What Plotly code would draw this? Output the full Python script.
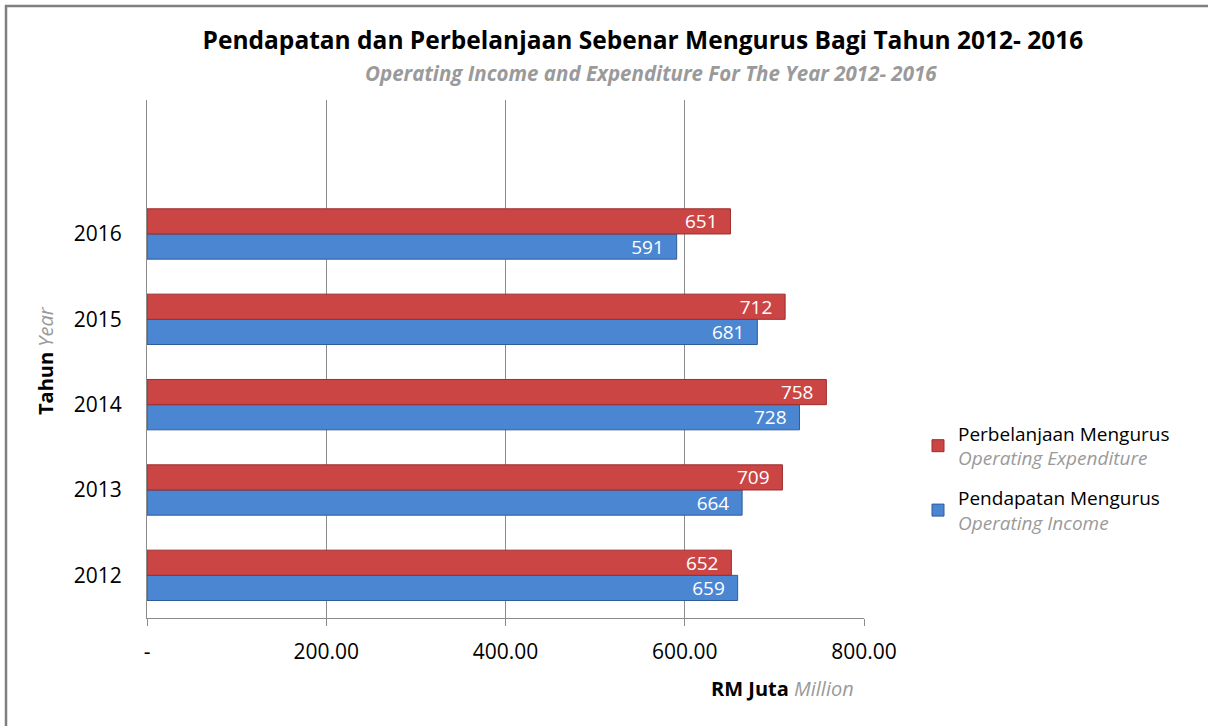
import plotly.graph_objects as go

years = ["2012", "2013", "2014", "2015", "2016"]
expenditure = [652, 709, 758, 712, 651]
income = [659, 664, 728, 681, 591]
tick_vals = [0, 200, 400, 600, 800]
tick_text = ["-", "200.00", "400.00", "600.00", "800.00"]

FONT = "Open Sans"
W, H = 1208, 726
L, R, T, B = 147, 864, 100, 618  # plot area in pixels
PW, PH = R - L, B - T


def px(x):
    return (x - L) / PW


def py(y):
    return (B - y) / PH


NB = "\u00a0\u00a0"

fig = go.Figure()
fig.add_trace(go.Bar(
    y=years, x=income, orientation="h", legendgroup="inc", legendrank=2,
    name="Pendapatan Mengurus<br><span style='color:#9a9a9a'><i>Operating Income</i></span>",
    marker=dict(color="#4B86D2", line=dict(color="#2E5C99", width=1)),
    text=[str(v) + NB for v in income], textposition="inside", insidetextanchor="end",
    constraintext="none",
    textfont=dict(color="white", size=19, family=FONT),
))
fig.add_trace(go.Bar(
    y=years, x=expenditure, orientation="h", legendgroup="exp", legendrank=1,
    name="Perbelanjaan Mengurus<br><span style='color:#9a9a9a'><i>Operating Expenditure</i></span>",
    marker=dict(color="#CB4545", line=dict(color="#9E2C2C", width=1)),
    text=[str(v) + NB for v in expenditure], textposition="inside", insidetextanchor="end",
    constraintext="none",
    textfont=dict(color="white", size=19, family=FONT),
))

fig.update_layout(
    width=W, height=H,
    margin=dict(l=L, r=W - R, t=T, b=H - B),
    paper_bgcolor="white", plot_bgcolor="white",
    barmode="group", bargap=0.41, bargroupgap=0.0,
    font=dict(family=FONT, color="black"),
    showlegend=True,
    legend=dict(x=px(918), y=py(478), xanchor="left", yanchor="middle",
                traceorder="grouped", font=dict(size=19, family=FONT),
                tracegroupgap=12, bgcolor="rgba(0,0,0,0)"),
    xaxis=dict(range=[0, 800], tickvals=tick_vals, ticktext=tick_text,
               showgrid=True, gridcolor="#8c8c8c", gridwidth=1,
               showline=True, linecolor="#8c8c8c", linewidth=1,
               ticks="outside", ticklen=7, tickcolor="#8c8c8c",
               ticklabelstandoff=8,
               tickfont=dict(size=21, family=FONT), zeroline=False),
    yaxis=dict(type="category", categoryorder="array", categoryarray=years,
               range=[-0.5, 5.57], showline=True, linecolor="#8c8c8c", linewidth=1,
               showgrid=False, ticks="", ticklabelstandoff=20,
               tickfont=dict(size=21, family=FONT)),
    title=dict(text="<b>Pendapatan dan Perbelanjaan Sebenar Mengurus Bagi Tahun 2012- 2016</b>",
               x=643 / W, xref="container", xanchor="center",
               y=1 - 40 / H, yref="container", yanchor="middle",
               font=dict(size=24.5, family=FONT, color="black")),
)

fig.add_annotation(text="<b><i>Operating Income and Expenditure For The Year 2012- 2016</i></b>",
                   xref="paper", yref="paper", x=px(651), y=py(73),
                   xanchor="center", yanchor="middle", showarrow=False,
                   font=dict(size=20.5, family=FONT, color="#9a9a9a"))

fig.add_annotation(text="<b>RM Juta</b> <span style='color:#9a9a9a'><i>Million</i></span>",
                   xref="paper", yref="paper", x=px(856), y=py(688),
                   xanchor="right", yanchor="middle", showarrow=False,
                   font=dict(size=20, family=FONT, color="black"))

fig.add_annotation(text="<b>Tahun</b> <span style='color:#9a9a9a'><i>Year</i></span>",
                   xref="paper", yref="paper", x=px(45), y=py(360),
                   xanchor="center", yanchor="middle", textangle=-90, showarrow=False,
                   font=dict(size=20, family=FONT, color="black"))

# outer frame (top and left edges visible)
fig.add_shape(type="rect", xref="paper", yref="paper",
              x0=px(6), x1=px(1240), y0=py(760), y1=py(6),
              line=dict(color="#7f7f7f", width=2.5), layer="below")

fig.write_html("out.html", config={"displayModeBar": False},
               post_script="document.body.style.margin='0';")
